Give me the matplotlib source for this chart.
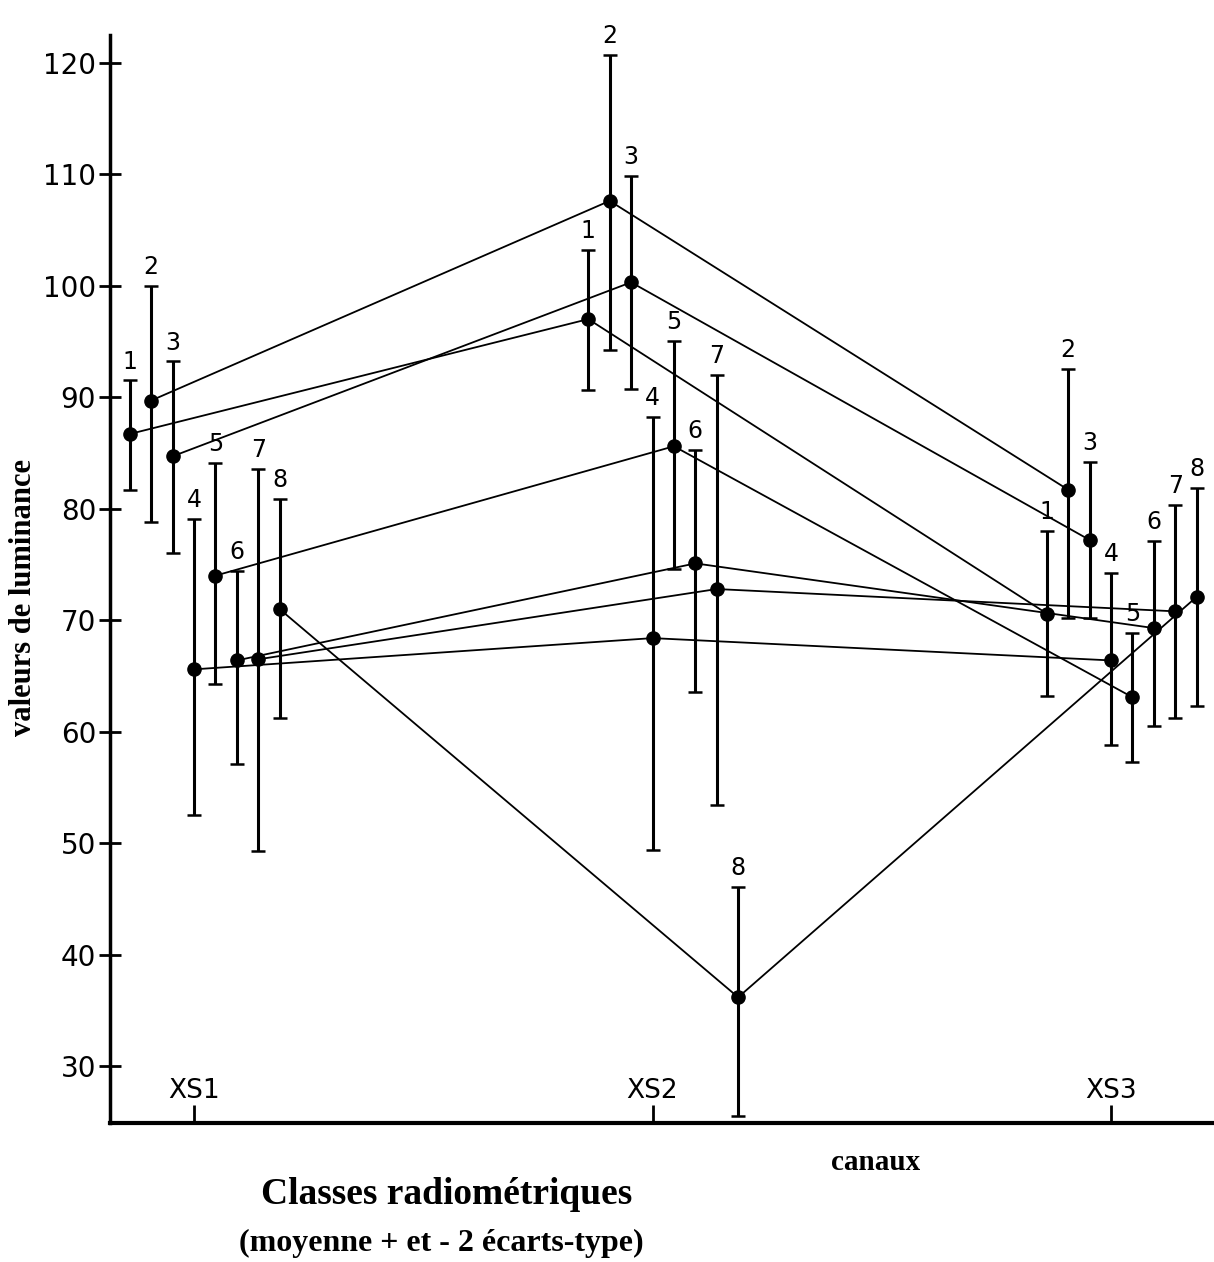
import matplotlib
matplotlib.use('Agg')
import matplotlib.pyplot as plt
import numpy as np

# ---- data ----
channels = ['XS1', 'XS2', 'XS3']
classes = ['1', '2', '3', '4', '5', '6', '7', '8']

mean_xs1 = [86.7, 89.7, 84.7, 65.6, 74.0, 66.4, 66.5, 71.0]
upper_xs1 = [91.5, 100.0, 93.2, 79.1, 84.1, 74.4, 83.6, 80.9]
lower_xs1 = [81.7, 78.8, 76.0, 52.5, 64.3, 57.1, 49.3, 61.2]

mean_xs2 = [97.0, 107.6, 100.3, 68.4, 85.6, 75.1, 72.8, 36.2]
upper_xs2 = [103.2, 120.7, 109.8, 88.2, 95.0, 85.3, 92.0, 46.1]
lower_xs2 = [90.6, 94.2, 90.7, 49.4, 74.6, 63.6, 53.4, 25.6]

mean_xs3 = [70.6, 81.7, 77.2, 66.4, 63.1, 69.3, 70.8, 72.1]
upper_xs3 = [78.0, 92.5, 84.2, 74.2, 68.9, 77.1, 80.3, 81.9]
lower_xs3 = [63.2, 70.2, 70.2, 58.8, 57.3, 60.5, 61.2, 62.3]

yticks = [30, 40, 50, 60, 70, 80, 90, 100, 110, 120]

means = [mean_xs1, mean_xs2, mean_xs3]
uppers = [upper_xs1, upper_xs2, upper_xs3]
lowers = [lower_xs1, lower_xs2, lower_xs3]

# ---- figure ----
W, H = 1214, 1262
fig = plt.figure(figsize=(W / 100, H / 100), dpi=100)
ax_left, ax_right = 110 / W, 1.0
ax_bottom, ax_top = (H - 1123) / H, (H - 35) / H
ax = fig.add_axes([ax_left, ax_bottom, ax_right - ax_left, ax_top - ax_bottom])

step = 0.0467  # horizontal spread between classes (channel units)
ch_pos = np.arange(1, len(channels) + 1)

for k, cls in enumerate(classes):
    xs = [ch_pos[c] + (k - 3) * step for c in range(len(channels))]
    ys = [means[c][k] for c in range(len(channels))]
    ax.plot(xs, ys, color='black', lw=1.3, zorder=2)
    for c in range(len(channels)):
        m = means[c][k]
        u = uppers[c][k]
        l = lowers[c][k]
        ax.errorbar([xs[c]], [m], yerr=[[m - l], [u - m]], fmt='o',
                    color='black', ms=9.5, capsize=5, elinewidth=2.2,
                    capthick=1.8, zorder=3)
        ax.annotate(cls, (xs[c], u), xytext=(0, 5), textcoords='offset points',
                    ha='center', va='bottom', fontsize=17,
                    family='DejaVu Sans', color='black')

ax.set_xlim(0.8168, 3.2246)
ax.set_ylim(24.93, 122.47)

for s in ['top', 'right']:
    ax.spines[s].set_visible(False)
ax.spines['left'].set_linewidth(2.5)
ax.spines['bottom'].set_linewidth(3)

ax.set_yticks(yticks)
ax.set_yticklabels([str(v) for v in yticks], fontsize=20, family='DejaVu Sans')
ax.tick_params(axis='y', direction='inout', length=16, width=2, pad=2)

ax.set_xticks(ch_pos)
ax.set_xticklabels([])
ax.tick_params(axis='x', direction='in', length=13, width=2)
for c, name in enumerate(channels):
    ax.annotate(name, (ch_pos[c], 0), xycoords=('data', 'axes fraction'),
                xytext=(0, 14), textcoords='offset points',
                ha='center', va='bottom', fontsize=19, family='DejaVu Sans')

serif = 'Liberation Serif'
fig.text(24 / W, 1 - 597 / H, 'valeurs de luminance', rotation=90,
         ha='center', va='center', fontsize=22, fontweight='bold', family=serif)
fig.text(876 / W, 1 - 1162 / H, 'canaux', ha='center', va='center',
         fontsize=21, fontweight='bold', family=serif)
fig.text(447 / W, 1 - 1194 / H, 'Classes radiométriques', ha='center',
         va='center', fontsize=27, fontweight='bold', family=serif)
fig.text(441 / W, 1 - 1243 / H, '(moyenne + et - 2 écarts-type)', ha='center',
         va='center', fontsize=23, fontweight='bold', family=serif)

fig.savefig('out.png', dpi=100)
